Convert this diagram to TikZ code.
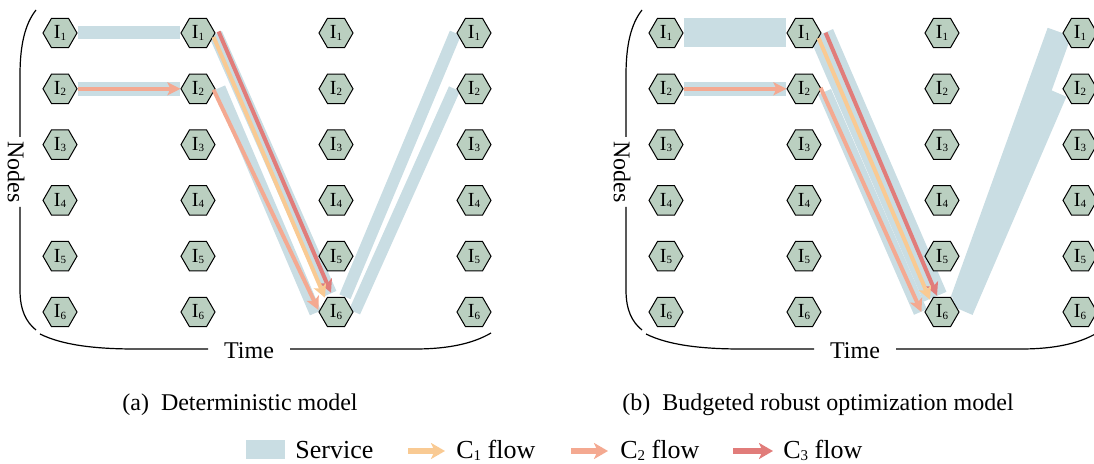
\documentclass[tikz,border=0pt]{standalone}
\usepackage{fontspec}
\setmainfont{Liberation Serif}
\usetikzlibrary{shapes.geometric,arrows.meta}
\definecolor{svc}{HTML}{C9DDE3}
\definecolor{hexfill}{HTML}{BACFC0}
\definecolor{cone}{HTML}{F9CA93}
\definecolor{ctwo}{HTML}{F4A991}
\definecolor{cthree}{HTML}{E17C7A}
\newcommand\subd[1]{\raisebox{-0.12ex}{\fontsize{5.5}{6}\selectfont #1}}
\newcommand\subl[1]{\raisebox{-0.1ex}{\fontsize{7.5}{8}\selectfont #1}}
\pgfdeclarelayer{bg}
\pgfsetlayers{bg,main}
\tikzset{
  hex/.style={regular polygon, regular polygon sides=6, minimum size=17pt, inner sep=0pt,
    draw=black, line width=0.5pt, fill=hexfill, font=\fontsize{10}{10}\selectfont},
  band/.style={draw=svc, line cap=butt},
  flowtip/.style={-{Stealth[length=6.5pt,width=6.5pt,inset=1.5pt]}},
  flowone/.style={draw=cone, line width=2pt, flowtip},
  flowtwo/.style={draw=ctwo, line width=2pt, flowtip},
  flowthree/.style={draw=cthree, line width=2pt, flowtip},
  legtip/.style={-{Stealth[length=7pt,width=8pt,inset=1.8pt]}, line width=3pt},
  bracket/.style={line width=0.6pt, draw=black},
  lab/.style={font=\fontsize{12}{12}\selectfont, inner sep=0pt},
  captext/.style={font=\fontsize{12}{12}\selectfont, inner sep=0pt, anchor=base},
  leg/.style={font=\fontsize{13}{13}\selectfont, inner sep=0pt, anchor=base west}
}
\begin{document}
\begin{tikzpicture}[x=0.5pt,y=-0.5pt]
\useasboundingbox (0,0) rectangle (1094,464);

% hexagon nodes
\foreach \p/\o in {a/0,b/606}{
  \foreach \c in {1,2,3,4}{
    \foreach \r in {1,...,6}{
      \pgfmathsetmacro\xx{60+\o+138*(\c-1)}
      \pgfmathsetmacro\yy{33+55.8*(\r-1)}
      \node[hex] (\p-\r-\c) at (\xx,\yy) {I\subd{\r}};
    }
  }
}

\begin{pgfonlayer}{bg}
% ---- panel (a) service bands
\draw[band,line width=6.5pt] (a-1-1.east) -- (a-1-2.west);
\draw[band,line width=7pt] (a-2-1.east) -- (a-2-2.west);
\draw[band,line width=7pt] ([shift={(0,1)}]a-1-2.east) -- ([shift={(-6,-3)}]a-6-3.north);
\draw[band,line width=6pt] ([shift={(4,-1)}]a-2-2.east) -- ([shift={(-3,1)}]a-6-3.west);
\draw[band,line width=6pt] ([shift={(9,0)}]a-6-3.north) -- ([shift={(-1,0)}]a-1-4.west);
\draw[band,line width=6pt] ([shift={(1,0)}]a-6-3.east) -- ([shift={(-2,0)}]a-2-4.west);
% ---- panel (b) service bands
\draw[band,line width=14.5pt] (b-1-1.east) -- (b-1-2.west);
\draw[band,line width=7pt] (b-2-1.east) -- (b-2-2.west);
\draw[band,line width=12.5pt] ([shift={(0,1)}]b-1-2.east) -- ([shift={(-7,0)}]b-6-3.north);
\draw[band,line width=7pt] ([shift={(3,3)}]b-2-2.east) -- ([shift={(-4,0)}]b-6-3.west);
\draw[band,line width=12.5pt] ([shift={(3,-11)}]b-6-3.east) -- ([shift={(-3,-1)}]b-1-4.west);
\draw[band,line width=12.5pt] ([shift={(1.5,-2)}]b-6-3.east) -- ([shift={(-7.5,3)}]b-2-4.west);
\end{pgfonlayer}

% ---- panel (a) flows
\draw[flowtwo] (a-2-1.east) -- (a-2-2.west);
\draw[flowthree] ([shift={(3,-1.5)}]a-1-2.east) -- ([shift={(-5,-4)}]a-6-3.north);
\draw[flowone] ([shift={(-2,4)}]a-1-2.east) -- ([shift={(-11,1)}]a-6-3.north);
\draw[flowtwo] ([shift={(-2,1)}]a-2-2.east) -- ([shift={(0,-2)}]a-6-3.west);
% ---- panel (b) flows
\draw[flowtwo] (b-2-1.east) -- (b-2-2.west);
\draw[flowthree] ([shift={(4,-0.3)}]b-1-2.east) -- ([shift={(-5,-1)}]b-6-3.north);
\draw[flowone] ([shift={(-3,5)}]b-1-2.east) -- ([shift={(-12,3)}]b-6-3.north);
\draw[flowtwo] ([shift={(-1,-1)}]b-2-2.east) -- ([shift={(-3,0)}]b-6-3.west);

% ---- axis brackets
\foreach \o/\p in {0/a,606/b}{
  \begin{scope}[shift={(\o,0)}]
    \draw[bracket] (36,10) .. controls (25,24) and (20,45) .. (20,75) -- (20,137);
    \draw[bracket] (20,207) -- (20,290) .. controls (20,310) and (26,322) .. (36,330);
    \draw[bracket] (40,334) .. controls (62,345) and (95,349) .. (135,349) -- (208,349);
    \draw[bracket] (290,349) -- (415,349) .. controls (450,349) and (474,343) .. (491,333);
    \node[lab, rotate=-90] (nodes-\p) at (16,172) {Nodes};
    \node[lab] (time-\p) at (249,351) {Time};
  \end{scope}
}

% ---- captions
\node[captext] (capa) at (240,411) {(a)\ \ Deterministic model};
\node[captext] (capb) at (818,411) {(b)\ \ Budgeted robust optimization model};

% ---- legend
\node[fill=svc, minimum width=19.5pt, minimum height=9.5pt, inner sep=0pt] (lgsvc) at (265.5,450) {};
\node[leg] (lgsvct) at (295,459) {Service};
\coordinate (l1a) at (408,451); \coordinate (l1b) at (445,451);
\draw[draw=cone, legtip] (l1a) -- (l1b);
\node[leg] (lg1t) at (456,459) {C\subl{1} flow};
\coordinate (l2a) at (571,451); \coordinate (l2b) at (608,451);
\draw[draw=ctwo, legtip] (l2a) -- (l2b);
\node[leg] (lg2t) at (620,459) {C\subl{2} flow};
\coordinate (l3a) at (733,451); \coordinate (l3b) at (773,451);
\draw[draw=cthree, legtip] (l3a) -- (l3b);
\node[leg] (lg3t) at (783,459) {C\subl{3} flow};
\end{tikzpicture}
\end{document}
